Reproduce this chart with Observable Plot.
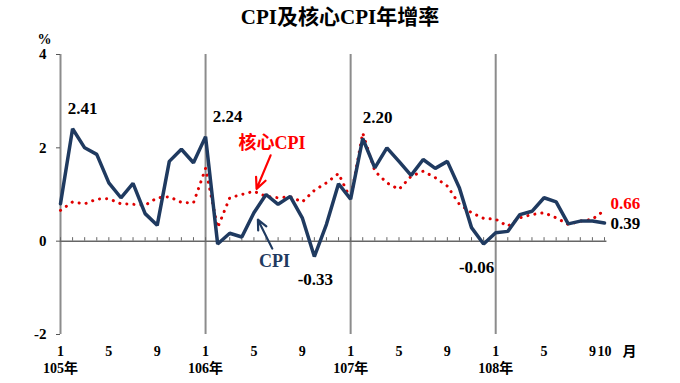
<!DOCTYPE html>
<html>
<head>
<meta charset="utf-8">
<script src="https://cdn.jsdelivr.net/npm/d3@7"></script>
<script src="https://cdn.jsdelivr.net/npm/@observablehq/plot@0.6"></script>
<style>
  body { margin: 0; background: #fff; }
  #title { height: 30px; line-height: 40px; text-align: center; font: bold 21px "Liberation Serif", "Noto Sans CJK TC", serif; color: #000; overflow: visible; }
  svg { display: block; }
</style>
</head>
<body>
<div id="title">CPI及核心CPI年增率</div>
<div id="chart"></div>
<script>
const years = ["105年", "106年", "107年", "108年"];
const yearStart = [0, 12, 24, 36];
const xTickIdx = [0, 4, 8, 12, 16, 20, 24, 28, 32, 36, 40, 44, 45];
const xTickText = ["1", "5", "9", "1", "5", "9", "1", "5", "9", "1", "5", "9", "10"];
const yTicks = [4, 2, 0, -2];
const cpi = [0.80, 2.41, 2.00, 1.86, 1.25, 0.93, 1.24, 0.59, 0.34, 1.71, 1.97, 1.68,
             2.24, -0.06, 0.17, 0.09, 0.61, 1.00, 0.79, 0.96, 0.50, -0.33, 0.36, 1.23,
             0.90, 2.20, 1.57, 2.00, 1.71, 1.41, 1.75, 1.56, 1.71, 1.14, 0.29, -0.06,
             0.18, 0.21, 0.57, 0.64, 0.93, 0.84, 0.37, 0.43, 0.43, 0.39];
const core = [0.66, 0.84, 0.80, 0.90, 0.91, 0.80, 0.79, 0.77, 0.93, 0.95, 0.83, 0.82,
              1.56, 0.29, 0.93, 1.00, 1.07, 0.96, 0.93, 0.95, 0.84, 1.09, 1.25, 1.45,
              0.90, 2.32, 1.50, 1.25, 1.11, 1.39, 1.50, 1.36, 1.18, 0.79, 0.61, 0.49,
              0.47, 0.32, 0.50, 0.57, 0.61, 0.50, 0.36, 0.43, 0.47, 0.66];

const NAVY = "#1f3a60", RED = "#e00000", GRID = "#8c8c8c";
const serif = "'Liberation Serif', 'Noto Sans CJK TC', serif";

const data = cpi.map((v, i) => ({i, cpi: v, core: core[i]}));
const months = data.map(d => d.i);

const valueLabels = [
  {i: 1, s: "cpi", dx: 10, dy: -20, color: "#000", anchor: "middle"},
  {i: 12, s: "cpi", dx: 22, dy: -20, color: "#000", anchor: "middle"},
  {i: 21, s: "cpi", dx: 1, dy: 23, color: "#000", anchor: "middle"},
  {i: 25, s: "cpi", dx: 15, dy: -21, color: "#000", anchor: "middle"},
  {i: 35, s: "cpi", dx: -7, dy: 24, color: "#000", anchor: "middle"},
  {i: 45, s: "core", dx: 6, dy: -7, color: "#ff0000", anchor: "start"},
  {i: 45, s: "cpi", dx: 6, dy: 1, color: "#000", anchor: "start"}
];
const seriesLabels = [
  {x: 17.5, y: 2.1, text: "核心CPI", color: "#ff0000", size: 18},
  {x: 17.7, y: -0.42, text: "CPI", color: NAVY, size: 18}
];
const arrows = [
  {x1: 17.38, y1: 1.84, x2: 16.22, y2: 1.12, color: "#ff0000"},
  {x1: 17.52, y1: -0.16, x2: 16.33, y2: 0.46, color: NAVY}
];

const plot = Plot.plot({
  width: 680,
  height: 353,
  marginTop: 24,
  marginBottom: 49,
  marginLeft: 60,
  marginRight: 76,
  x: {domain: [0, 45], axis: null},
  y: {domain: [-2, 4], axis: null},
  style: {fontFamily: serif, background: "transparent"},
  marks: [
    Plot.ruleX(yearStart.slice(1), {y1: -2, y2: 4, stroke: GRID, strokeWidth: 2}),
    Plot.ruleX([0], {y1: -2, y2: 4, stroke: GRID, strokeWidth: 2}),
    Plot.axisY({ticks: yTicks, tickSize: 4, tickPadding: 10, stroke: "#555", tickFormat: d => String(d),
                fontSize: 15, fontWeight: "bold", fill: "#000", label: null}),
    Plot.text(["%"], {x: 0, y: 4, dx: -16, dy: -15, fontSize: 14, fontWeight: "bold", fill: "#000"}),
    Plot.ruleY([0], {x1: 0, x2: 45.2, stroke: "#666", strokeWidth: 1.5}),
    Plot.ruleX(months, {y1: 0, y2: 0.075, stroke: "#666", strokeWidth: 1}),
    Plot.text(xTickIdx, {x: d => d, y: -2, text: (d, k) => xTickText[k], dy: 17, fontSize: 14, fontWeight: "bold", fill: "#000"}),
    Plot.text(["月"], {x: 45, y: -2, dx: 25, dy: 17, fontSize: 14, fontWeight: "bold", fill: "#000"}),
    Plot.text(yearStart, {x: d => d, y: -2, text: (d, k) => years[k], dy: 34, fontSize: 14, fontWeight: "bold", fill: "#000"}),
    Plot.line(data, {x: "i", y: "core", stroke: RED, strokeWidth: 3, strokeDasharray: "0.1 7", strokeLinecap: "round"}),
    Plot.line(data, {x: "i", y: "cpi", stroke: NAVY, strokeWidth: 3.5, strokeLinejoin: "miter"}),
    Plot.arrow(arrows, {x1: "x1", y1: "y1", x2: "x2", y2: "y2", stroke: "color", strokeWidth: 2.2, headLength: 10, headAngle: 50}),
    ...seriesLabels.map(l => Plot.text([l], {x: "x", y: "y", text: "text", fill: l.color, fontSize: l.size, fontWeight: "bold"})),
    ...valueLabels.map(l => Plot.text([l], {
      x: "i", y: d => d.s === "cpi" ? cpi[d.i] : core[d.i],
      text: d => (d.s === "cpi" ? cpi[d.i] : core[d.i]).toFixed(2),
      dx: l.dx, dy: l.dy, fill: l.color, textAnchor: l.anchor, fontSize: 17, fontWeight: "bold"
    }))
  ]
});
document.getElementById("chart").appendChild(plot);
</script>
</body>
</html>
